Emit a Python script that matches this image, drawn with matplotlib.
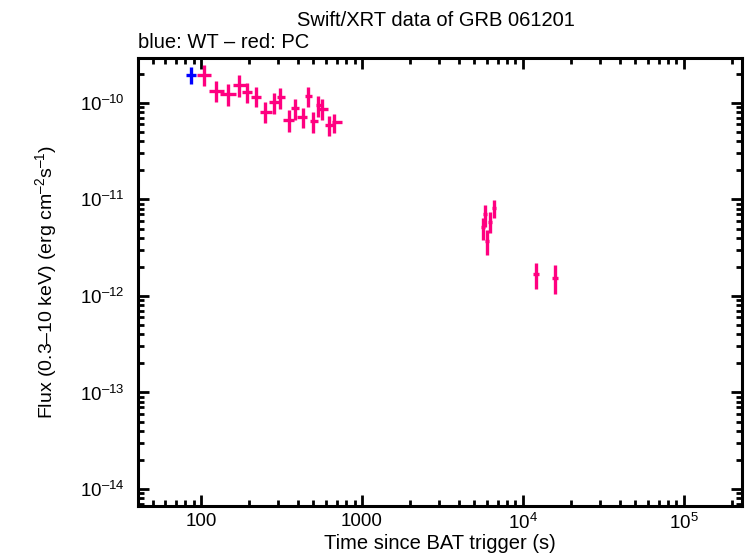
import numpy as np
import matplotlib
matplotlib.use('Agg')
import matplotlib.pyplot as plt
from matplotlib.ticker import LogLocator, FixedLocator, FixedFormatter, NullFormatter

plt.rcParams['font.family'] = ['Liberation Sans', 'DejaVu Sans']
plt.rcParams['mathtext.fontset'] = 'custom'
plt.rcParams['mathtext.rm'] = 'Liberation Sans'
plt.rcParams['mathtext.it'] = 'Liberation Sans'
plt.rcParams['mathtext.bf'] = 'Liberation Sans'

# WT mode (blue)
wt_t = [87]
wt_tlo = [81]
wt_thi = [93]
wt_f = [1.95e-10]
wt_flo = [1.57e-10]
wt_fhi = [2.36e-10]

# PC mode (red/pink)
pc_t = [104, 124, 147, 172, 193, 220, 250, 284, 310, 352, 385, 430, 462, 496, 531, 563, 620, 673,
        5650, 5820, 6000, 6260, 6580, 12040, 15800]
pc_tlo = [95, 112, 132, 158, 180, 205, 232, 264, 295, 323, 363, 397, 446, 473, 515, 538, 587, 650,
          5490, 5660, 5830, 6090, 6400, 11530, 15130]
pc_thi = [115, 139, 165, 190, 207, 236, 276, 305, 331, 378, 407, 458, 487, 531, 563, 613, 678, 751,
          5820, 5990, 6180, 6440, 6770, 12570, 16500]
pc_f = [1.95e-10, 1.33e-10, 1.24e-10, 1.54e-10, 1.30e-10, 1.15e-10, 8.07e-11, 1.02e-10, 1.15e-10,
        6.67e-11, 8.87e-11, 7.16e-11, 1.18e-10, 6.5e-11, 9.5e-11, 8.7e-11, 5.9e-11, 6.4e-11,
        5.13e-12, 6.99e-12, 3.67e-12, 5.8e-12, 8.07e-12, 1.69e-12, 1.54e-12]
pc_flo = [1.50e-10, 1.02e-10, 9.3e-11, 1.15e-10, 1.0e-10, 9.1e-11, 6.2e-11, 7.6e-11, 8.7e-11,
          5.0e-11, 6.7e-11, 5.5e-11, 9.1e-11, 4.9e-11, 7.2e-11, 6.6e-11, 4.5e-11, 4.9e-11,
          3.76e-12, 5.13e-12, 2.63e-12, 4.45e-12, 6.36e-12, 1.17e-12, 1.05e-12]
pc_fhi = [2.48e-10, 1.69e-10, 1.57e-10, 1.95e-10, 1.61e-10, 1.46e-10, 1.02e-10, 1.27e-10, 1.43e-10,
          8.4e-11, 1.10e-10, 8.9e-11, 1.46e-10, 8.1e-11, 1.18e-10, 1.1e-10, 7.3e-11, 7.6e-11,
          6.36e-12, 8.67e-12, 4.77e-12, 7.33e-12, 9.76e-12, 2.17e-12, 2.07e-12]

x_ticks = [100, 1000, 1e4, 1e5]
x_labels = ['100', '1000', '10$^{4}$', '10$^{5}$']
y_ticks = [1e-14, 1e-13, 1e-12, 1e-11, 1e-10]
y_labels = ['10$^{\u201314}$', '10$^{\u201313}$', '10$^{\u201312}$', '10$^{\u201311}$', '10$^{\u201310}$']

fig = plt.figure(figsize=(7.46, 5.58), dpi=100)
ax = fig.add_axes([138 / 746, 1 - 506 / 558, (742 - 138) / 746, (506 - 58) / 558])


def draw(t, tlo, thi, f, flo, fhi, color):
    t = np.array(t); f = np.array(f)
    xerr = [t - np.array(tlo), np.array(thi) - t]
    yerr = [f - np.array(flo), np.array(fhi) - f]
    ax.errorbar(t, f, xerr=xerr, yerr=yerr, fmt='none', ecolor=color, elinewidth=2.4, capsize=0)


draw(wt_t, wt_tlo, wt_thi, wt_f, wt_flo, wt_fhi, '#0000ff')
draw(pc_t, pc_tlo, pc_thi, pc_f, pc_flo, pc_fhi, '#ff0080')

ax.set_xscale('log')
ax.set_yscale('log')
ax.set_xlim(40.6, 2.3e5)
ax.set_ylim(6.67e-15, 2.92e-10)

ax.xaxis.set_major_locator(FixedLocator(x_ticks))
ax.xaxis.set_major_formatter(FixedFormatter(x_labels))
ax.xaxis.set_minor_locator(LogLocator(base=10, subs=np.arange(2, 10)))
ax.xaxis.set_minor_formatter(NullFormatter())
ax.yaxis.set_major_locator(FixedLocator(y_ticks))
ax.yaxis.set_major_formatter(FixedFormatter(y_labels))
ax.yaxis.set_minor_locator(LogLocator(base=10, subs=np.arange(2, 10)))
ax.yaxis.set_minor_formatter(NullFormatter())

ax.tick_params(which='both', direction='in', top=True, right=True, labelsize=13.5, width=2)
ax.tick_params(which='major', length=8)
ax.tick_params(which='minor', length=4)
ax.tick_params(axis='x', which='major', pad=5)
ax.tick_params(axis='y', which='major', pad=10)
for s in ax.spines.values():
    s.set_linewidth(2.2)

ax.set_xlabel('Time since BAT trigger (s)', fontsize=14.5, labelpad=1)
ax.set_ylabel('Flux (0.3\u201310 keV) (erg cm$^{\u20132}$s$^{\u20131}$)', fontsize=14, labelpad=15)

fig.text(436 / 746, 1 - 20 / 558, 'Swift/XRT data of GRB 061201', ha='center', va='center', fontsize=14.5)
fig.text(138 / 746, 1 - 43 / 558, 'blue: WT \u2013 red: PC', ha='left', va='center', fontsize=14.5)

fig.savefig('out.png', dpi=100)
